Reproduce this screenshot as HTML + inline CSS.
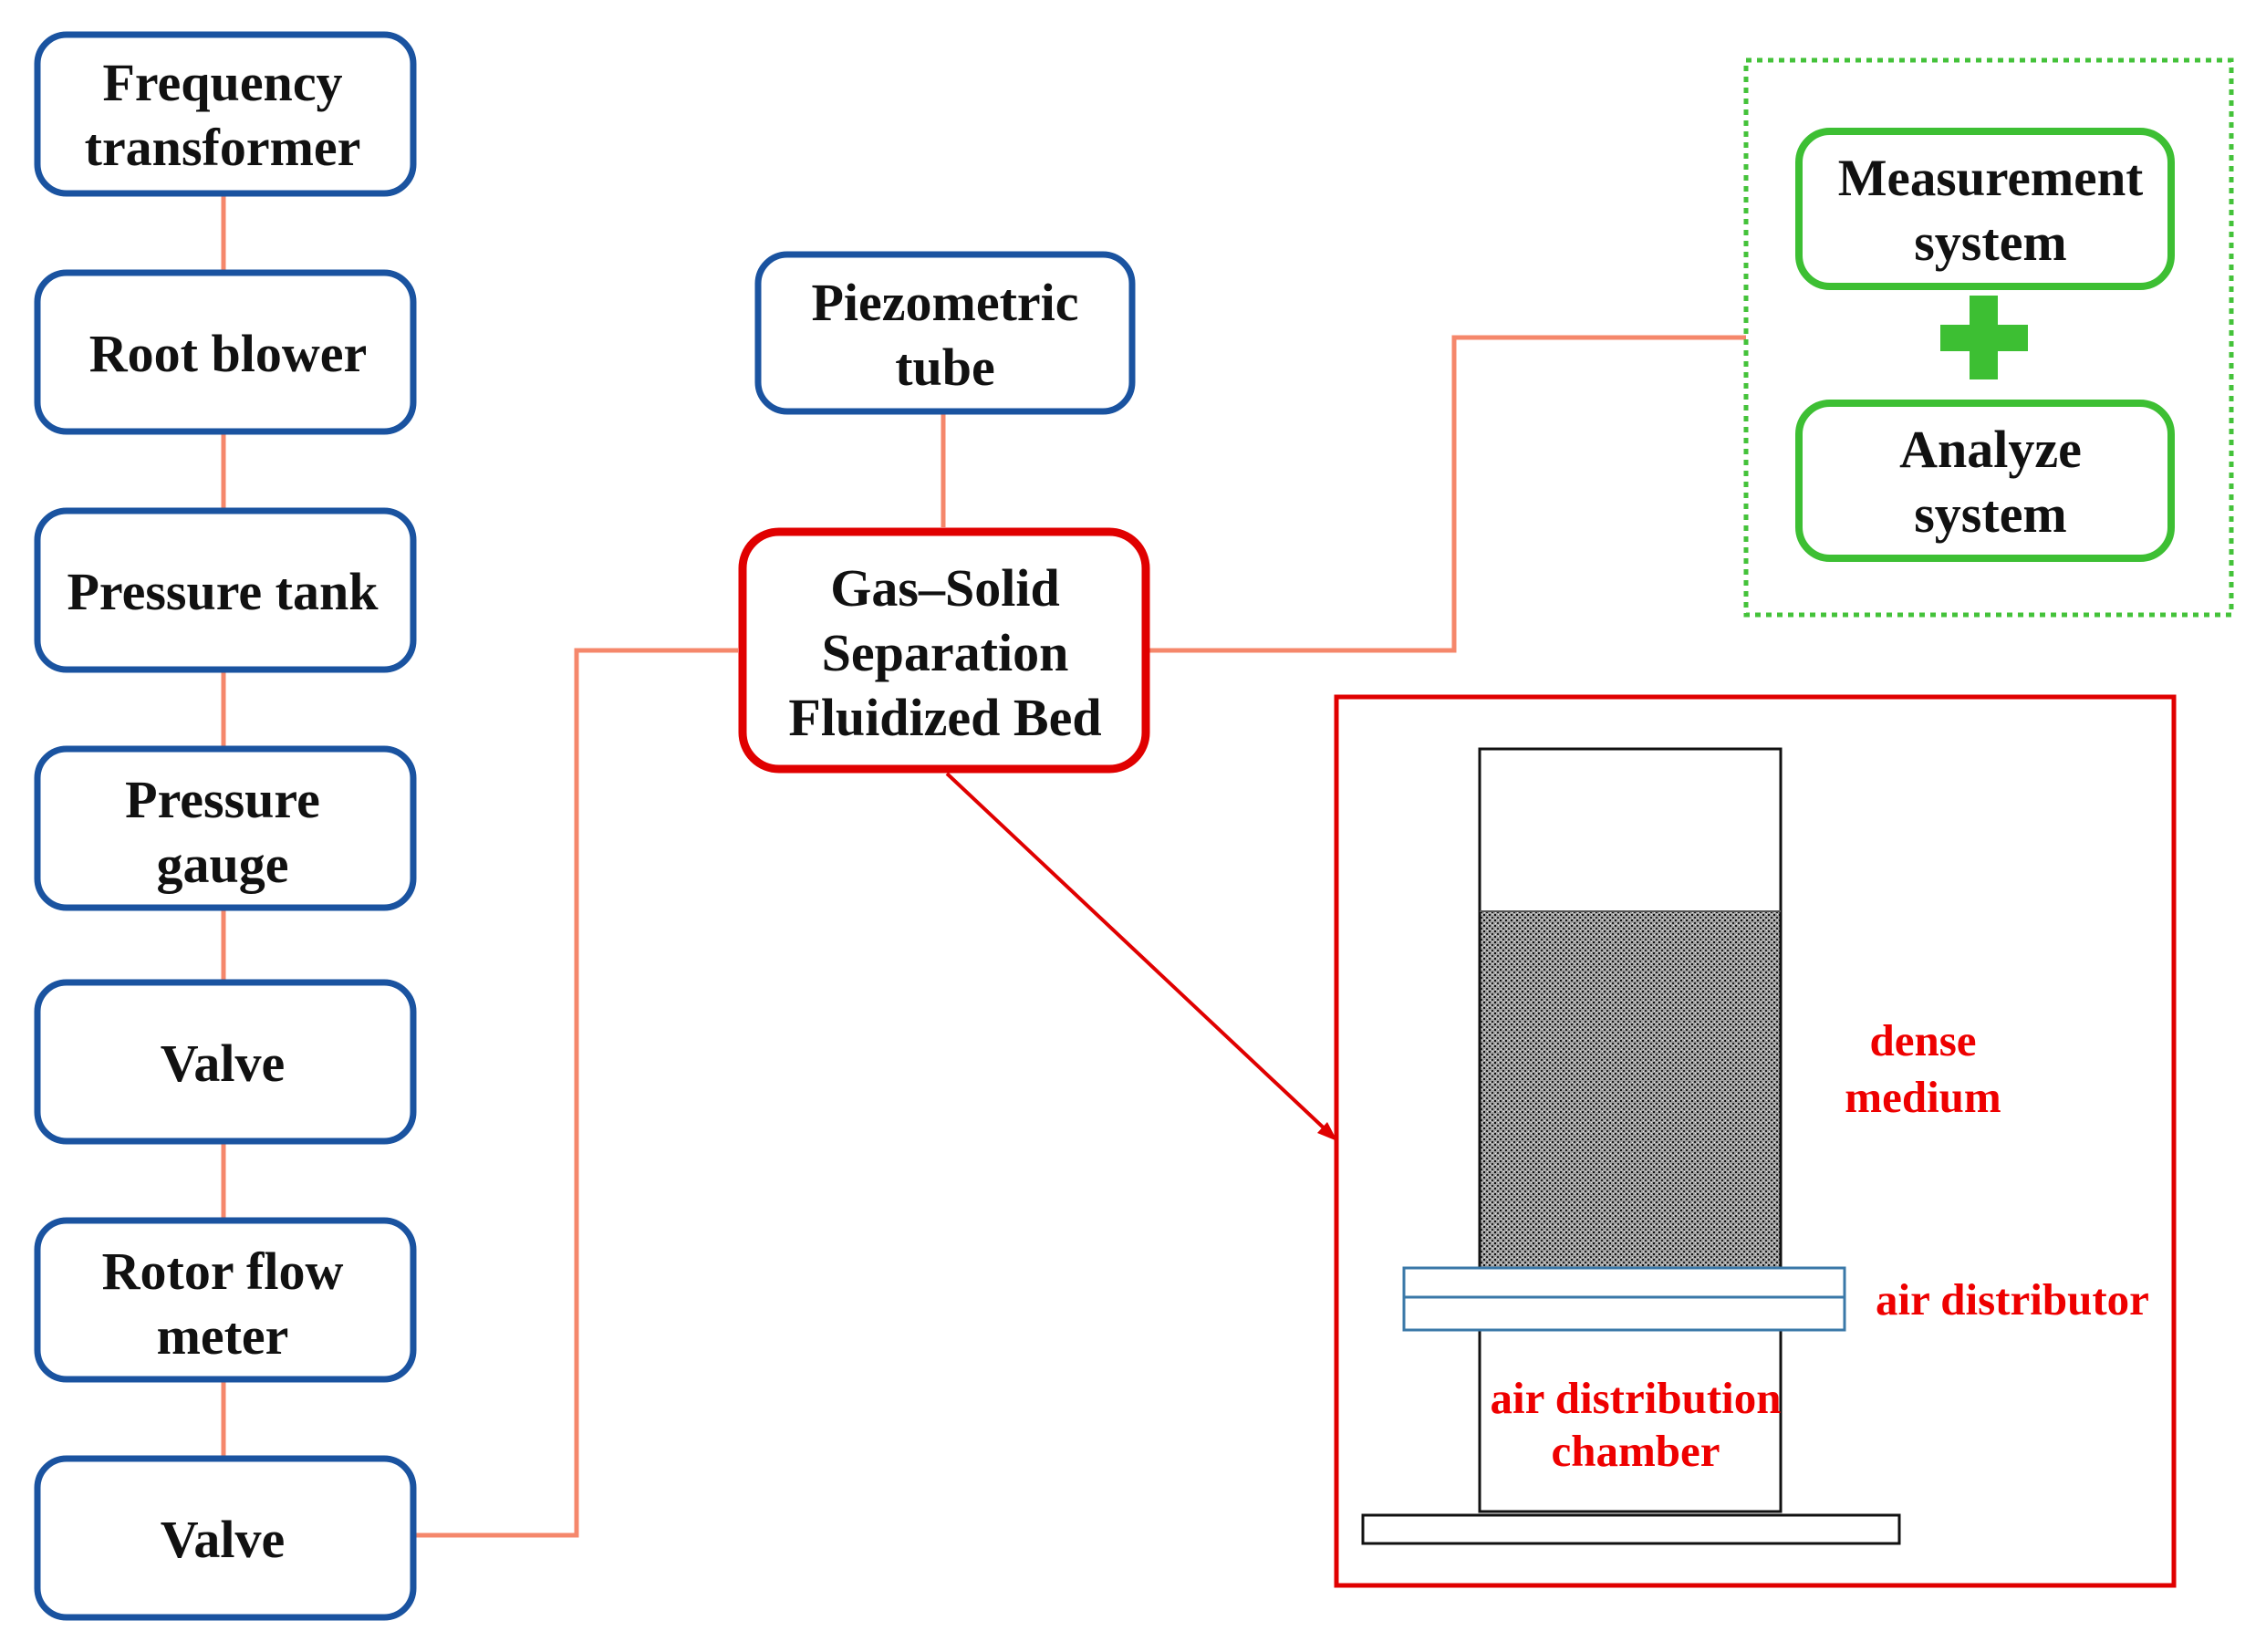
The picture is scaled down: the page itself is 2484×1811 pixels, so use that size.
<!DOCTYPE html>
<html><head><meta charset="utf-8"><style>
html,body{margin:0;padding:0;background:#fff}
body{width:2484px;height:1811px;position:relative;overflow:hidden;font-family:"Liberation Serif",serif;font-weight:bold}
</style></head><body>
<svg width="2484" height="1811" viewBox="0 0 2484 1811" xmlns="http://www.w3.org/2000/svg" style="position:absolute;left:0;top:0">
<defs>
<pattern id="dots" width="6" height="6" patternUnits="userSpaceOnUse">
<rect width="6" height="6" fill="#a0a0a0"/>
<rect x="0" y="0" width="2" height="2" fill="#111"/>
<rect x="3" y="3" width="2" height="2" fill="#222"/>
<rect x="4" y="0" width="1" height="1" fill="#eee"/>
<rect x="1" y="4" width="1" height="1" fill="#eee"/>
</pattern>
</defs>
<g stroke="#f5876b" stroke-width="5" fill="none">
<line x1="245" y1="212" x2="245" y2="296"/>
<line x1="245" y1="473" x2="245" y2="557"/>
<line x1="245" y1="734" x2="245" y2="818"/>
<line x1="245" y1="995" x2="245" y2="1074"/>
<line x1="245" y1="1251" x2="245" y2="1335"/>
<line x1="245" y1="1511" x2="245" y2="1596"/>
<polyline points="453,1683 632,1683 632,713 809,713"/>
<line x1="1034" y1="451" x2="1034" y2="578"/>
<polyline points="1260,713 1594,713 1594,370 1914,370"/>
</g>
<g fill="#fff" stroke="#1a53a0" stroke-width="7">
<rect x="41" y="38" width="412" height="174" rx="32"/>
<rect x="41" y="299" width="412" height="174" rx="32"/>
<rect x="41" y="560" width="412" height="174" rx="32"/>
<rect x="41" y="821" width="412" height="174" rx="32"/>
<rect x="41" y="1077" width="412" height="174" rx="32"/>
<rect x="41" y="1338" width="412" height="174" rx="32"/>
<rect x="41" y="1599" width="412" height="174" rx="32"/>
<rect x="831" y="279" width="410" height="172" rx="32"/>
</g>
<rect x="814" y="583" width="442" height="260" rx="40" fill="#fff" stroke="#e00000" stroke-width="9"/>
<rect x="1914" y="66" width="532" height="608" fill="none" stroke="#44c23a" stroke-width="5" stroke-dasharray="6,6"/>
<g fill="#fff" stroke="#3dbf33" stroke-width="8">
<rect x="1972" y="144" width="408" height="170" rx="34"/>
<rect x="1972" y="442" width="408" height="170" rx="34"/>
</g>
<rect x="2159" y="324" width="31" height="92" fill="#3dbf33"/>
<rect x="2127" y="356" width="96" height="29" fill="#3dbf33"/>
<line x1="1038" y1="848" x2="1458" y2="1243" stroke="#e00000" stroke-width="4"/>
<polygon points="1466,1251 1444,1242 1455,1230" fill="#e00000"/>
<rect x="1465" y="764" width="918" height="974" fill="none" stroke="#e00000" stroke-width="5"/>
<rect x="1622" y="999" width="330" height="391" fill="url(#dots)"/>
<rect x="1622" y="821" width="330" height="836" fill="none" stroke="#111" stroke-width="3"/>
<line x1="1622" y1="999" x2="1952" y2="999" stroke="#555" stroke-width="2"/>
<rect x="1539" y="1390" width="483" height="68" fill="#fff" stroke="#3a78a8" stroke-width="3"/>
<line x1="1539" y1="1422" x2="2022" y2="1422" stroke="#3a78a8" stroke-width="3"/>
<rect x="1494" y="1661" width="588" height="31" fill="#fff" stroke="#111" stroke-width="3"/>
<g font-family="Liberation Serif, serif" font-weight="bold" font-size="58" text-anchor="middle" fill="#111">
<text x="244" y="110">Frequency</text>
<text x="244" y="181">transformer</text>
<text x="250" y="407">Root blower</text>
<text x="244" y="668">Pressure tank</text>
<text x="244" y="896">Pressure</text>
<text x="244" y="967">gauge</text>
<text x="244" y="1185">Valve</text>
<text x="244" y="1413">Rotor flow</text>
<text x="244" y="1484">meter</text>
<text x="244" y="1707">Valve</text>
<text x="1036" y="351">Piezometric</text>
<text x="1036" y="422">tube</text>
<text x="1036" y="664">Gas–Solid</text>
<text x="1036" y="735">Separation</text>
<text x="1036" y="806">Fluidized Bed</text>
<text x="2182" y="214" font-size="57">Measurement</text>
<text x="2182" y="285">system</text>
<text x="2182" y="512">Analyze</text>
<text x="2182" y="583">system</text>
</g>
<g font-family="Liberation Serif, serif" font-weight="bold" font-size="49" fill="#ee0000" text-anchor="middle">
<text x="2108" y="1157">dense</text>
<text x="2108" y="1219">medium</text>
<text x="2056" y="1441" text-anchor="start">air distributor</text>
<text x="1793" y="1549">air distribution</text>
<text x="1793" y="1607">chamber</text>
</g>
</svg>
</body></html>
